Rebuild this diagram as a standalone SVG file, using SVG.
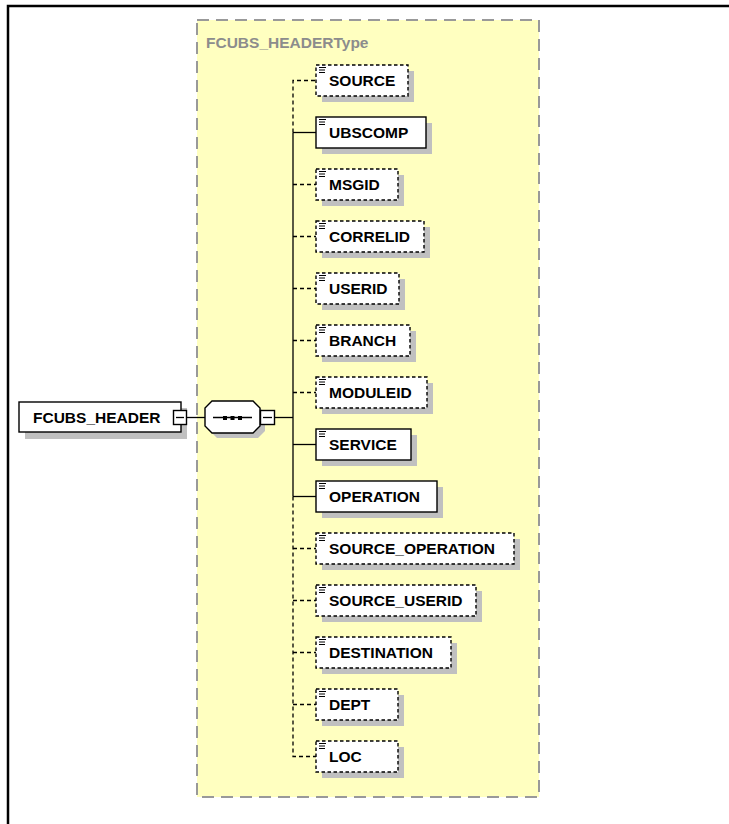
<svg xmlns="http://www.w3.org/2000/svg" width="729" height="824" viewBox="0 0 729 824">
<defs>
<style>
.lbl{font-family:"Liberation Sans",Arial,sans-serif;font-weight:bold;font-size:15.5px;fill:#000}
.type{font-family:"Liberation Sans",Arial,sans-serif;font-weight:bold;font-size:15.5px;fill:#8c8c8c}
.box{fill:#fff;stroke:#000;stroke-width:1.4}
.opt{fill:#fff;stroke:#000;stroke-width:1.4;stroke-dasharray:3.5 2.5}
.sh{fill:#c0c0c0}
.icon{stroke:#000;stroke-width:1;fill:none}
.solid{stroke:#000;stroke-width:1.3;fill:none}
.dash{stroke:#000;stroke-width:1.3;fill:none;stroke-dasharray:4 3}
</style>
</defs>
<rect x="0" y="0" width="729" height="824" fill="#fff"/>
<path d="M8 824 V6 H729" fill="none" stroke="#000" stroke-width="2.5"/>
<g id="type-box">
<rect x="197" y="20" width="342" height="777" fill="#ffffc0" stroke="#999" stroke-width="2" stroke-dasharray="12 7"/>
<text class="type" x="206" y="48">FCUBS_HEADERType</text>
</g>
<g id="connectors">
<line class="solid" x1="187" y1="417.5" x2="205" y2="417.5"/>
<line class="solid" x1="275" y1="417.5" x2="293" y2="417.5"/>
<path class="dash" d="M293 132.5 V80.5 H316"/>
<line class="solid" x1="293" y1="132.5" x2="293" y2="496.5"/>
<path class="dash" d="M293 496.5 V756.5 H316"/>
<line class="solid" x1="293" y1="132.5" x2="316" y2="132.5"/>
<line class="dash" x1="293" y1="184.5" x2="316" y2="184.5"/>
<line class="dash" x1="293" y1="236.5" x2="316" y2="236.5"/>
<line class="dash" x1="293" y1="288.5" x2="316" y2="288.5"/>
<line class="dash" x1="293" y1="340.5" x2="316" y2="340.5"/>
<line class="dash" x1="293" y1="392.5" x2="316" y2="392.5"/>
<line class="solid" x1="293" y1="444.5" x2="316" y2="444.5"/>
<line class="solid" x1="293" y1="496.5" x2="316" y2="496.5"/>
<line class="dash" x1="293" y1="548.5" x2="316" y2="548.5"/>
<line class="dash" x1="293" y1="600.5" x2="316" y2="600.5"/>
<line class="dash" x1="293" y1="652.5" x2="316" y2="652.5"/>
<line class="dash" x1="293" y1="704.5" x2="316" y2="704.5"/>
</g>
<g id="FCUBS_HEADER">
<rect class="sh" x="25" y="408" width="162" height="31"/>
<rect class="box" x="19" y="402" width="162" height="30"/>
<text class="lbl" x="33" y="423">FCUBS_HEADER</text>
<rect class="box" x="173.5" y="410.5" width="13" height="14"/>
<line class="solid" x1="176" y1="417.5" x2="184" y2="417.5"/>
</g>
<g id="sequence">
<path class="sh" d="M217 406 H258 L265 413 V431 L258 438 H217 L210 431 V413 Z"/>
<path class="box" d="M212 401 H253 L260 408 V426 L253 433 H212 L205 426 V408 Z"/>
<line class="solid" x1="213" y1="417.5" x2="252" y2="417.5"/>
<rect x="223" y="416" width="4" height="4" fill="#000"/>
<rect x="230.5" y="416" width="4" height="4" fill="#000"/>
<rect x="238" y="416" width="4" height="4" fill="#000"/>
<rect class="box" x="260.5" y="410.5" width="14" height="14"/>
<line class="solid" x1="263" y1="417.5" x2="272" y2="417.5"/>
</g>
<g id="SOURCE">
<rect class="sh" x="322" y="71" width="92" height="31"/>
<rect class="opt" x="316" y="65" width="92" height="31"/>
<path class="icon" d="M319 67.5 H326 M319 70 H325 M319 72.5 H325"/>
<text class="lbl" x="329" y="86">SOURCE</text>
</g>
<g id="UBSCOMP">
<rect class="sh" x="322" y="123" width="110" height="31"/>
<rect class="box" x="316" y="117" width="110" height="31"/>
<path class="icon" d="M319 119.5 H326 M319 122 H325 M319 124.5 H325"/>
<text class="lbl" x="329" y="138">UBSCOMP</text>
</g>
<g id="MSGID">
<rect class="sh" x="322" y="175" width="82" height="31"/>
<rect class="opt" x="316" y="169" width="82" height="31"/>
<path class="icon" d="M319 171.5 H326 M319 174 H325 M319 176.5 H325"/>
<text class="lbl" x="329" y="190">MSGID</text>
</g>
<g id="CORRELID">
<rect class="sh" x="322" y="227" width="108" height="31"/>
<rect class="opt" x="316" y="221" width="108" height="31"/>
<path class="icon" d="M319 223.5 H326 M319 226 H325 M319 228.5 H325"/>
<text class="lbl" x="329" y="242">CORRELID</text>
</g>
<g id="USERID">
<rect class="sh" x="322" y="279" width="83" height="31"/>
<rect class="opt" x="316" y="273" width="83" height="31"/>
<path class="icon" d="M319 275.5 H326 M319 278 H325 M319 280.5 H325"/>
<text class="lbl" x="329" y="294">USERID</text>
</g>
<g id="BRANCH">
<rect class="sh" x="322" y="331" width="94" height="31"/>
<rect class="opt" x="316" y="325" width="94" height="31"/>
<path class="icon" d="M319 327.5 H326 M319 330 H325 M319 332.5 H325"/>
<text class="lbl" x="329" y="346">BRANCH</text>
</g>
<g id="MODULEID">
<rect class="sh" x="322" y="383" width="111" height="31"/>
<rect class="opt" x="316" y="377" width="111" height="31"/>
<path class="icon" d="M319 379.5 H326 M319 382 H325 M319 384.5 H325"/>
<text class="lbl" x="329" y="398">MODULEID</text>
</g>
<g id="SERVICE">
<rect class="sh" x="322" y="435" width="95" height="31"/>
<rect class="box" x="316" y="429" width="95" height="31"/>
<path class="icon" d="M319 431.5 H326 M319 434 H325 M319 436.5 H325"/>
<text class="lbl" x="329" y="450">SERVICE</text>
</g>
<g id="OPERATION">
<rect class="sh" x="322" y="487" width="121" height="31"/>
<rect class="box" x="316" y="481" width="121" height="31"/>
<path class="icon" d="M319 483.5 H326 M319 486 H325 M319 488.5 H325"/>
<text class="lbl" x="329" y="502">OPERATION</text>
</g>
<g id="SOURCE_OPERATION">
<rect class="sh" x="322" y="539" width="198" height="31"/>
<rect class="opt" x="316" y="533" width="198" height="31"/>
<path class="icon" d="M319 535.5 H326 M319 538 H325 M319 540.5 H325"/>
<text class="lbl" x="329" y="554">SOURCE_OPERATION</text>
</g>
<g id="SOURCE_USERID">
<rect class="sh" x="322" y="591" width="160" height="31"/>
<rect class="opt" x="316" y="585" width="160" height="31"/>
<path class="icon" d="M319 587.5 H326 M319 590 H325 M319 592.5 H325"/>
<text class="lbl" x="329" y="606">SOURCE_USERID</text>
</g>
<g id="DESTINATION">
<rect class="sh" x="322" y="643" width="135" height="31"/>
<rect class="opt" x="316" y="637" width="135" height="31"/>
<path class="icon" d="M319 639.5 H326 M319 642 H325 M319 644.5 H325"/>
<text class="lbl" x="329" y="658">DESTINATION</text>
</g>
<g id="DEPT">
<rect class="sh" x="322" y="695" width="82" height="31"/>
<rect class="opt" x="316" y="689" width="82" height="31"/>
<path class="icon" d="M319 691.5 H326 M319 694 H325 M319 696.5 H325"/>
<text class="lbl" x="329" y="710">DEPT</text>
</g>
<g id="LOC">
<rect class="sh" x="322" y="747" width="82" height="31"/>
<rect class="opt" x="316" y="741" width="82" height="31"/>
<path class="icon" d="M319 743.5 H326 M319 746 H325 M319 748.5 H325"/>
<text class="lbl" x="329" y="762">LOC</text>
</g>
</svg>
